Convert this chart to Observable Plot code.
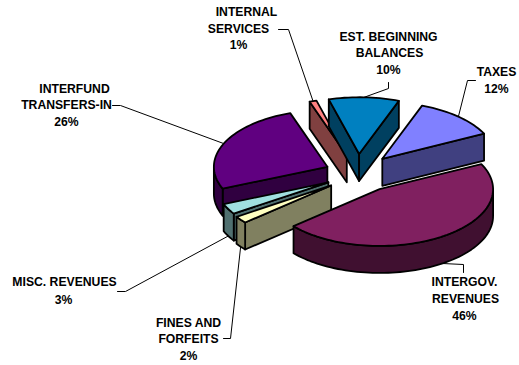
<!DOCTYPE html>
<html>
<head>
<meta charset="utf-8">
<script src="https://cdn.jsdelivr.net/npm/d3@7"></script>
<script src="https://cdn.jsdelivr.net/npm/@observablehq/plot@0.6"></script>
<style>
  html, body { margin: 0; padding: 0; background: #fff; }
  svg { display: block; }
</style>
</head>
<body>
<div id="chart"></div>
<script>
// Revenue sources, clockwise from the Taxes slice
const categories = ["TAXES", "INTERGOV. REVENUES", "FINES AND FORFEITS", "MISC. REVENUES",
                    "INTERFUND TRANSFERS-IN", "INTERNAL SERVICES", "EST. BEGINNING BALANCES"];
const shares = [12, 46, 2, 3, 26, 1, 10];
const topColors = ["#8080ff", "#802060", "#ffffc0", "#a0e0e0", "#600080", "#ff8080", "#0080c0"];
const wallColors = ["#404080", "#401030", "#808060", "#507070", "#300040", "#804040", "#004060"];
const explosion = [37, 40, 33, 33, 33, 36, 37];
const sag = [0, 0, 3, 2, 1, 0, 0];

// Label text, one row per printed line: slice index, text, centre x, centre y
const labelRows = [
  [0, "TAXES", 496, 72], [0, "12%", 496, 89],
  [1, "INTERGOV.", 464, 282], [1, "REVENUES", 465, 299], [1, "46%", 464, 316],
  [2, "FINES AND", 188, 323], [2, "FORFEITS", 188, 339], [2, "2%", 188, 356],
  [3, "MISC. REVENUES", 64, 282], [3, "3%", 63, 300],
  [4, "INTERFUND", 74, 89], [4, "TRANSFERS-IN", 66, 105], [4, "26%", 66, 122],
  [5, "INTERNAL", 246, 12], [5, "SERVICES", 238, 29], [5, "1%", 238, 45],
  [6, "EST. BEGINNING", 388, 37], [6, "BALANCES", 389, 53], [6, "10%", 388, 70]
];

// Leader lines run from the slice rim through these two points to the label
const leaderBends = [
  [[467, 80], [475, 80]],
  [[463, 264], [463, 272]],
  [[230, 338], [223, 338]],
  [[125, 291], [117, 291]],
  [[120, 105], [112, 105]],
  [[288, 29], [278, 29]],
  [[388, 88], [388, 82]]
];

// Projection of the tilted disc
const center = {x: 357, y: 172};
const radius = 113.5;
const squash = 0.5;
const depth = 27;
const startDegrees = 20.5;
const rad = Math.PI / 180;

const arcs = d3.pie().sort(null)
  .startAngle(startDegrees * rad)
  .endAngle((startDegrees + 360) * rad)(shares);

const polar = (apex, angle, r = radius) => [
  apex[0] + r * Math.sin(angle),
  apex[1] - r * squash * Math.cos(angle)
];
const drop = ([x, y]) => [x, y + depth];
const arcPoints = (apex, a0, a1) => {
  const n = Math.max(2, Math.ceil((a1 - a0) / (2 * rad)));
  return d3.range(n + 1).map(i => polar(apex, a0 + (a1 - a0) * i / n));
};

const slices = arcs.map((arc, i) => {
  const mid = (arc.startAngle + arc.endAngle) / 2;
  const pulled = polar([center.x, center.y], mid, explosion[i]);
  return {i, apex: [pulled[0], pulled[1] + sag[i]], a0: arc.startAngle, a1: arc.endAngle, mid};
});

// Side faces of one slice, only those turned towards the viewer
function wallPolygons({apex, a0, a1}) {
  const polys = [];
  const facing = a => Math.cos(a) < 0;
  if (facing(a0 - Math.PI / 2)) {
    const r = polar(apex, a0);
    polys.push([apex, r, drop(r), drop(apex)]);
  }
  if (facing(a1 + Math.PI / 2)) {
    const r = polar(apex, a1);
    polys.push([apex, r, drop(r), drop(apex)]);
  }
  const lo = Math.max(a0, Math.PI / 2), hi = Math.min(a1, 3 * Math.PI / 2);
  if (hi > lo) {
    const rim = arcPoints(apex, lo, hi);
    polys.push([...rim, ...rim.slice().reverse().map(drop)]);
  }
  return polys;
}

const polygon = (points, fill) => Plot.line(points, {
  x: d => d[0], y: d => d[1],
  curve: "linear-closed", fill,
  stroke: "#000", strokeWidth: 1.8, strokeLinejoin: "round"
});

// Back slices first so the nearer ones cover them
const paintOrder = [5, 6, 0, 4, 3, 2, 1];
const sliceMarks = paintOrder.flatMap(i => {
  const s = slices[i];
  return [
    ...wallPolygons(s).map(p => polygon(p, wallColors[i])),
    polygon([s.apex, ...arcPoints(s.apex, s.a0, s.a1)], topColors[i])
  ];
});

const leaderRows = slices.flatMap(s => {
  const rim = polar(s.apex, s.mid);
  const start = Math.cos(s.mid) < 0 ? drop(rim) : rim;
  return [start, ...leaderBends[s.i]].map(p => ({slice: categories[s.i], x: p[0], y: p[1]}));
});

const labels = labelRows.map(([i, text, x, y]) => ({slice: categories[i], text, x, y}));

const chart = Plot.plot({
  width: 519,
  height: 365,
  margin: 0,
  x: {domain: [0, 519], range: [0, 519], axis: null},
  y: {domain: [0, 365], range: [0, 365], axis: null},
  style: {background: "#fff"},
  marks: [
    Plot.line(leaderRows, {x: "x", y: "y", z: "slice", stroke: "#000", strokeWidth: 1}),
    ...sliceMarks,
    Plot.text(labels, {
      x: "x", y: "y", text: "text",
      fontFamily: "Liberation Sans", fontWeight: "bold", fontSize: 12.2,
      fill: "#000", textAnchor: "middle"
    })
  ]
});
document.getElementById("chart").appendChild(chart);
</script>
</body>
</html>
